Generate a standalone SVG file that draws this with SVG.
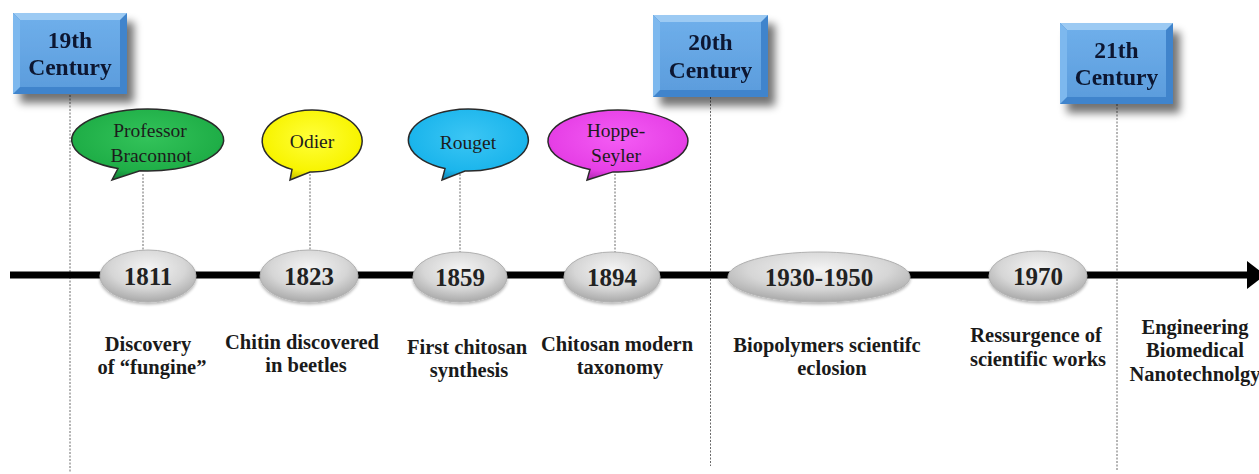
<svg xmlns="http://www.w3.org/2000/svg" width="1259" height="474" viewBox="0 0 1259 474">
<defs>
  <style>
    .cent { font-family: "Liberation Serif", "Times New Roman", serif; font-weight: bold; font-size: 23.5px; fill: #0c1830; text-anchor: middle; }
    .bub { font-family: "Liberation Serif", "Times New Roman", serif; font-size: 19.5px; fill: #1c1c1c; text-anchor: middle; }
    .year { font-family: "Liberation Serif", "Times New Roman", serif; font-weight: bold; font-size: 25px; fill: #222; text-anchor: middle; }
    .lbl { font-family: "Liberation Serif", "Times New Roman", serif; font-weight: bold; font-size: 20.5px; fill: #1a1a1a; text-anchor: middle; }
    .dot { stroke: #6a6a6a; stroke-width: 1; stroke-dasharray: 2 1.5; fill: none; }
    .bubshape { stroke: #2a2a2a; stroke-width: 1.5; }
    .yr { fill: url(#gGray); stroke: #b0b0b0; stroke-width: 1; filter: url(#shSmall); }
  </style>
  <filter id="shBox" x="-20%" y="-20%" width="150%" height="150%">
    <feGaussianBlur in="SourceAlpha" stdDeviation="4"/>
    <feOffset dx="7" dy="9" result="o"/>
    <feComponentTransfer><feFuncA type="linear" slope="0.55"/></feComponentTransfer>
    <feMerge><feMergeNode/><feMergeNode in="SourceGraphic"/></feMerge>
  </filter>
  <filter id="shSmall" x="-20%" y="-30%" width="140%" height="170%">
    <feGaussianBlur in="SourceAlpha" stdDeviation="1.5"/>
    <feOffset dx="0" dy="2" result="o"/>
    <feComponentTransfer><feFuncA type="linear" slope="0.3"/></feComponentTransfer>
    <feMerge><feMergeNode/><feMergeNode in="SourceGraphic"/></feMerge>
  </filter>
  <linearGradient id="gFace" x1="0" y1="0" x2="0" y2="1">
    <stop offset="0" stop-color="#6eaeea"/>
    <stop offset="1" stop-color="#5c9ddd"/>
  </linearGradient>
  <radialGradient id="gGray" cx="0.5" cy="0.35" r="0.65">
    <stop offset="0" stop-color="#f4f4f4"/>
    <stop offset="0.6" stop-color="#d6d6d6"/>
    <stop offset="1" stop-color="#a9a9a9"/>
  </radialGradient>
  <radialGradient id="gGreen" cx="0.5" cy="0.4" r="0.6">
    <stop offset="0" stop-color="#33c35a"/>
    <stop offset="0.8" stop-color="#1fae47"/>
    <stop offset="1" stop-color="#14883a"/>
  </radialGradient>
  <radialGradient id="gYellow" cx="0.5" cy="0.4" r="0.6">
    <stop offset="0" stop-color="#ffff3a"/>
    <stop offset="0.8" stop-color="#f8f400"/>
    <stop offset="1" stop-color="#c9c400"/>
  </radialGradient>
  <radialGradient id="gCyan" cx="0.5" cy="0.4" r="0.6">
    <stop offset="0" stop-color="#3cc6f4"/>
    <stop offset="0.8" stop-color="#1bb5ec"/>
    <stop offset="1" stop-color="#0f8cbc"/>
  </radialGradient>
  <radialGradient id="gMag" cx="0.5" cy="0.4" r="0.6">
    <stop offset="0" stop-color="#f45cf4"/>
    <stop offset="0.8" stop-color="#e63fe6"/>
    <stop offset="1" stop-color="#b82ab8"/>
  </radialGradient>
  <marker id="arr" markerWidth="4" markerHeight="4" refX="0" refY="2" orient="auto" markerUnits="strokeWidth">
    <path d="M0,0 L2.6,2 L0,4 Z" fill="#000"/>
  </marker>
</defs>
<rect width="1259" height="474" fill="#fff"/>

<g id="connectors">
  <line class="dot" x1="70" y1="95" x2="70" y2="472"/>
  <line class="dot" x1="710.5" y1="97" x2="710.5" y2="466"/>
  <line class="dot" x1="1117" y1="104" x2="1117" y2="470"/>
  <line class="dot" x1="143" y1="174" x2="143" y2="250"/>
  <line class="dot" x1="310" y1="174" x2="310" y2="250"/>
  <line class="dot" x1="460" y1="174" x2="460" y2="252"/>
  <line class="dot" x1="615" y1="174" x2="615" y2="252"/>
  <line x1="10" y1="275" x2="1247" y2="275" stroke="#000" stroke-width="7" marker-end="url(#arr)"/>
</g>

<g id="c19" filter="url(#shBox)">
  <rect x="13" y="13" width="114" height="81" fill="#3f84cc"/>
  <polygon points="13,13 127,13 120,20 20,20" fill="#9ccaf3"/>
  <polygon points="13,13 20,20 20,87 13,94" fill="#7db8ee"/>
  <rect x="20" y="20" width="100" height="67" fill="url(#gFace)"/>
  <text class="cent" x="70" y="48">19th</text>
  <text class="cent" x="70" y="75">Century</text>
</g>
<g id="c20" filter="url(#shBox)">
  <rect x="653" y="15" width="115" height="82" fill="#3f84cc"/>
  <polygon points="653,15 768,15 761,22 660,22" fill="#9ccaf3"/>
  <polygon points="653,15 660,22 660,90 653,97" fill="#7db8ee"/>
  <rect x="660" y="22" width="101" height="68" fill="url(#gFace)"/>
  <text class="cent" x="710.5" y="50">20th</text>
  <text class="cent" x="710.5" y="78">Century</text>
</g>
<g id="c21" filter="url(#shBox)">
  <rect x="1060" y="23" width="113" height="81" fill="#3f84cc"/>
  <polygon points="1060,23 1173,23 1166,30 1067,30" fill="#9ccaf3"/>
  <polygon points="1060,23 1067,30 1067,97 1060,104" fill="#7db8ee"/>
  <rect x="1067" y="30" width="99" height="67" fill="url(#gFace)"/>
  <text class="cent" x="1116.5" y="58">21th</text>
  <text class="cent" x="1116.5" y="85">Century</text>
</g>

<g id="b-braconnot">
  <path class="bubshape" fill="url(#gGreen)" d="M118,168.5 L112,180 L140,170.8 A76,31 0 1 0 118,168.5 Z"/>
  <text class="bub" x="150" y="137">Professor</text>
  <text class="bub" x="151" y="162">Braconnot</text>
</g>
<g id="b-odier">
  <path class="bubshape" fill="url(#gYellow)" d="M292,169.4 L290,180 L310,172 A50,31 0 1 0 292,169.4 Z"/>
  <text class="bub" x="312" y="148">Odier</text>
</g>
<g id="b-rouget">
  <path class="bubshape" fill="url(#gCyan)" d="M445,168.6 L442,180 L465,171 A60,31 0 1 0 445,168.6 Z"/>
  <text class="bub" x="468" y="149">Rouget</text>
</g>
<g id="b-hoppe">
  <path class="bubshape" fill="url(#gMag)" d="M590,169.4 L587,180 L613,171.9 A70,31 0 1 0 590,169.4 Z"/>
  <text class="bub" x="616" y="137">Hoppe-</text>
  <text class="bub" x="616" y="162">Seyler</text>
</g>

<g id="y1811">
  <ellipse class="yr" cx="148" cy="276" rx="48" ry="26"/>
  <text class="year" x="148" y="285">1811</text>
</g>
<g id="y1823">
  <ellipse class="yr" cx="309" cy="276" rx="49" ry="26"/>
  <text class="year" x="309" y="285">1823</text>
</g>
<g id="y1859">
  <ellipse class="yr" cx="460" cy="277" rx="47" ry="25"/>
  <text class="year" x="460" y="286">1859</text>
</g>
<g id="y1894">
  <ellipse class="yr" cx="612" cy="277" rx="48" ry="25"/>
  <text class="year" x="612" y="286">1894</text>
</g>
<g id="y1930">
  <ellipse class="yr" cx="819" cy="277" rx="91" ry="25"/>
  <text class="year" x="819" y="286">1930-1950</text>
</g>
<g id="y1970">
  <ellipse class="yr" cx="1038" cy="276" rx="49" ry="25"/>
  <text class="year" x="1038" y="285">1970</text>
</g>

<g id="l1811">
  <text class="lbl" x="148" y="351">Discovery</text>
  <text class="lbl" x="152" y="374">of “fungine”</text>
</g>
<g id="l1823">
  <text class="lbl" x="302" y="349">Chitin discovered</text>
  <text class="lbl" x="306" y="372">in beetles</text>
</g>
<g id="l1859">
  <text class="lbl" x="467" y="354">First chitosan</text>
  <text class="lbl" x="469" y="377">synthesis</text>
</g>
<g id="l1894">
  <text class="lbl" x="617" y="351">Chitosan modern</text>
  <text class="lbl" x="620" y="374">taxonomy</text>
</g>
<g id="l1930">
  <text class="lbl" x="827" y="352">Biopolymers scientifc</text>
  <text class="lbl" x="832" y="375">eclosion</text>
</g>
<g id="l1970">
  <text class="lbl" x="1036" y="342">Ressurgence of</text>
  <text class="lbl" x="1038" y="366">scientific works</text>
</g>
<g id="l21">
  <text class="lbl" x="1195" y="334">Engineering</text>
  <text class="lbl" x="1195" y="357">Biomedical</text>
  <text class="lbl" x="1195" y="381">Nanotechnolgy</text>
</g>
</svg>
